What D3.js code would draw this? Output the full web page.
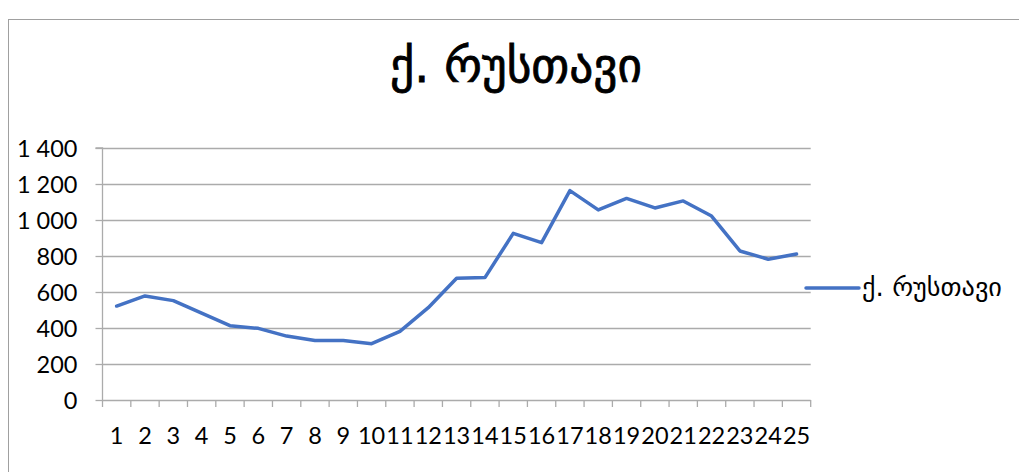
<!DOCTYPE html>
<html>
<head>
<meta charset="utf-8">
<script src="https://cdn.jsdelivr.net/npm/d3@7/dist/d3.min.js"></script>
<style>
  html, body { margin: 0; padding: 0; background: #fff; }
  svg { display: block; }
</style>
</head>
<body>
<svg id="chart" width="1019" height="472"></svg>
<script>
const titleText = "ქ. რუსთავი";
const seriesName = "ქ. რუსთავი";
const categories = ["1","2","3","4","5","6","7","8","9","10","11","12","13","14","15","16","17","18","19","20","21","22","23","24","25"];
const values = [522, 578, 552, 483, 413, 398, 355, 330, 330, 313, 381, 513, 676, 680, 926, 874, 1163, 1056, 1120, 1067, 1106, 1022, 828, 782, 811];
const yTicks = [0, 200, 400, 600, 800, 1000, 1200, 1400];

const svg = d3.select("#chart");
const W = 1019, H = 472;
const plot = { left: 102.5, right: 810.7, top: 148, bottom: 400 };
const gridColor = "#ababab";
const lineColor = "#4472c4";
const numFont = "Lato, 'Open Sans', sans-serif";
const geoFont = "'DejaVu Sans', sans-serif";
const numSize = 23.5;

// outer chart border
svg.append("rect")
  .attr("x", 8.5).attr("y", 19.5)
  .attr("width", W + 20).attr("height", H + 20)
  .attr("fill", "none").attr("stroke", "#a0a0a0").attr("stroke-width", 1);

const x = d3.scaleBand().domain(categories).range([plot.left, plot.right]);
const y = d3.scaleLinear().domain([0, 1400]).range([plot.bottom, plot.top]);

const fmt = d3.formatLocale({ decimal: ",", thousands: " ", grouping: [3], currency: ["", ""] }).format(",");

// gridlines
svg.append("g").selectAll("line").data(yTicks.filter(d => d !== 0)).join("line")
  .attr("x1", plot.left).attr("x2", plot.right)
  .attr("y1", d => Math.round(y(d)) + 0.5).attr("y2", d => Math.round(y(d)) + 0.5)
  .attr("stroke", gridColor).attr("stroke-width", 1.3);

// y axis
const yAxis = d3.axisLeft(y).tickValues(yTicks).tickSize(7).tickPadding(18).tickFormat(fmt);
const gy = svg.append("g").attr("transform", `translate(${plot.left},0)`).call(yAxis);
gy.select(".domain").attr("stroke", gridColor).attr("stroke-width", 1.3).attr("d", `M-7,${plot.top}H0V${plot.bottom}`);
gy.selectAll(".tick line").attr("stroke", gridColor).attr("stroke-width", 1.3);
gy.selectAll(".tick text").attr("font-family", numFont).attr("font-size", numSize).attr("fill", "#000").attr("dy", "0.36em");
gy.attr("font-family", null).attr("font-size", null);

// x axis baseline
svg.append("line")
  .attr("x1", plot.left).attr("x2", plot.right)
  .attr("y1", plot.bottom + 0.5).attr("y2", plot.bottom + 0.5)
  .attr("stroke", gridColor).attr("stroke-width", 1.3);

// x boundary ticks
const boundaries = categories.map(c => x(c)).concat([x(categories[categories.length - 1]) + x.bandwidth()]);
svg.append("g").selectAll("line").data(boundaries).join("line")
  .attr("x1", d => d).attr("x2", d => d)
  .attr("y1", plot.bottom).attr("y2", plot.bottom + 7)
  .attr("stroke", gridColor).attr("stroke-width", 1.3);

// x labels
svg.append("g").selectAll("text").data(categories).join("text")
  .attr("x", d => x(d) + x.bandwidth() / 2)
  .attr("y", 444)
  .attr("text-anchor", "middle")
  .attr("font-family", numFont).attr("font-size", numSize).attr("fill", "#000")
  .text(d => d);

// line
const line = d3.line()
  .x((d, i) => x(categories[i]) + x.bandwidth() / 2)
  .y(d => y(d));
svg.append("path").datum(values)
  .attr("d", line)
  .attr("fill", "none").attr("stroke", lineColor).attr("stroke-width", 3.5)
  .attr("stroke-linejoin", "round").attr("stroke-linecap", "round");

// title
const title = svg.append("text")
  .attr("x", 516).attr("y", 82)
  .attr("text-anchor", "middle")
  .attr("font-family", geoFont).attr("font-size", 40).attr("fill", "#000")
  .attr("stroke", "#000").attr("stroke-width", 0.8)
  .text(titleText);
{
  const target = 252;
  const len = title.node().getComputedTextLength();
  if (len > 0) title.attr("font-size", 40 * target / len);
}

// legend
svg.append("line")
  .attr("x1", 806).attr("x2", 859).attr("y1", 288).attr("y2", 288)
  .attr("stroke", lineColor).attr("stroke-width", 3.5).attr("stroke-linecap", "round");
const leg = svg.append("text")
  .attr("x", 862).attr("y", 296)
  .attr("font-family", geoFont).attr("font-size", 22).attr("fill", "#000")
  .text(seriesName);
{
  const target = 140;
  const len = leg.node().getComputedTextLength();
  if (len > 0) leg.attr("font-size", 22 * target / len);
}
</script>
</body>
</html>
